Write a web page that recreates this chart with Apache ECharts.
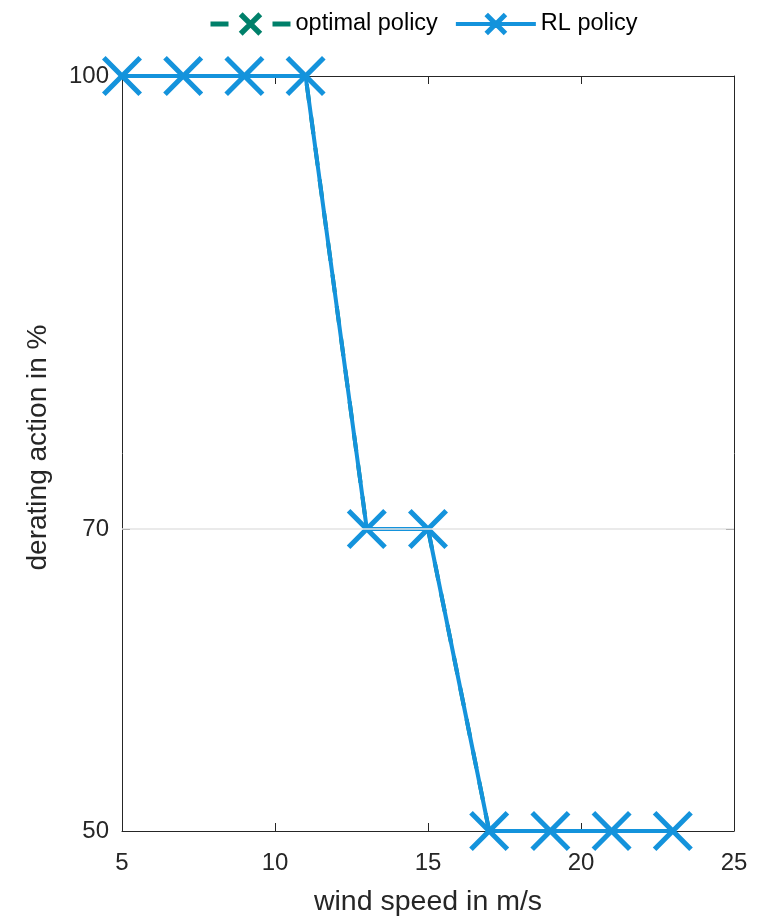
<!DOCTYPE html>
<html>
<head>
<meta charset="utf-8">
<script src="https://cdn.jsdelivr.net/npm/echarts@6/dist/echarts.min.js"></script>
<style>html,body{margin:0;padding:0;background:#fff}#c{width:766px;height:916px}</style>
</head>
<body>
<div id="c"></div>
<script>
const windSpeed = [5, 7, 9, 11, 13, 15, 17, 19, 21, 23];
const optimalPolicy = [100, 100, 100, 100, 70, 70, 50, 50, 50, 50];
const rlPolicy = [100, 100, 100, 100, 70, 70, 50, 50, 50, 50];
const xTicks = [5, 10, 15, 20, 25];
const yTicks = [50, 70, 100];
const gridLines = [70];

const crossPath = 'path://M0,9 L9,0 L50,41 L91,0 L100,9 L59,50 L100,91 L91,100 L50,59 L9,100 L0,91 L41,50 Z';
const font = 'Liberation Sans';
const txt = '#262626';
const green = '#00806a';
const blue = '#1493dc';

const chart = echarts.init(document.getElementById('c'), null, {renderer: 'canvas'});
const toPairs = (xs, ys) => xs.map((x, i) => [x, ys[i]]);

chart.setOption({
  animation: false,
  backgroundColor: '#fff',
  textStyle: {fontFamily: font},
  legend: {
    top: 7, left: 203,
    itemWidth: 80, itemHeight: 24, itemGap: 16,
    textStyle: {fontSize: 23.5, color: '#000', fontFamily: font},
    data: [
      {name: 'optimal policy', lineStyle: {width: 5, color: green, type: [18, 44]},
       itemStyle: {color: green, borderColor: green, borderWidth: 3}},
      {name: 'RL policy', lineStyle: {width: 4, color: blue},
       itemStyle: {color: blue, borderColor: blue, borderWidth: 2.5}}
    ]
  },
  grid: {left: 122, right: 32, top: 76, bottom: 85, containLabel: false, outerBoundsMode: 'none'},
  xAxis: [{
    type: 'value', min: 5, max: 25, interval: 5,
    name: 'wind speed in m/s', nameLocation: 'middle', nameGap: 57,
    nameTextStyle: {fontSize: 28.5, color: txt, fontFamily: font},
    axisLine: {show: true, lineStyle: {color: '#262626', width: 1}},
    axisTick: {show: true, inside: true, length: 8, lineStyle: {color: '#262626'}},
    axisLabel: {fontSize: 24, color: txt, margin: 20, fontFamily: font, customValues: xTicks},
    splitLine: {show: false}
  }, {
    type: 'value', min: 5, max: 25, interval: 5, position: 'top',
    axisLine: {show: true, lineStyle: {color: '#262626', width: 1}},
    axisTick: {show: true, inside: true, length: 8, lineStyle: {color: '#262626'}},
    axisLabel: {show: false},
    splitLine: {show: false}
  }],
  yAxis: [{
    type: 'value', min: 50, max: 100, interval: 10,
    name: 'derating action in %', nameLocation: 'middle', nameGap: 70,
    nameTextStyle: {fontSize: 28, color: txt, fontFamily: font, padding: [0, 0, 0, 12]},
    axisLine: {show: true, lineStyle: {color: '#262626', width: 1}},
    axisTick: {show: true, inside: true, length: 8, lineStyle: {color: '#262626'}, customValues: yTicks},
    axisLabel: {fontSize: 24, color: txt, margin: 13, fontFamily: font, customValues: yTicks},
    splitLine: {show: false}
  }, {
    type: 'value', min: 50, max: 100, interval: 10, position: 'right',
    axisLine: {show: true, lineStyle: {color: '#262626', width: 1}},
    axisTick: {show: true, inside: true, length: 8, lineStyle: {color: '#262626'}, customValues: yTicks},
    axisLabel: {show: false},
    splitLine: {show: false}
  }],
  series: [{
    name: 'optimal policy', type: 'line',
    data: toPairs(windSpeed, optimalPolicy),
    symbol: crossPath, symbolSize: 26,
    itemStyle: {color: green},
    lineStyle: {color: green, width: 4, type: [18, 14]},
    z: 2,
    markLine: {
      silent: true, symbol: 'none', label: {show: false},
      lineStyle: {color: '#e3e3e3', width: 1.5, type: 'solid'},
      data: gridLines.map(v => ({yAxis: v}))
    }
  }, {
    name: 'RL policy', type: 'line',
    data: toPairs(windSpeed, rlPolicy),
    symbol: crossPath, symbolSize: 40,
    itemStyle: {color: blue},
    lineStyle: {color: blue, width: 4},
    z: 3
  }]
});
</script>
</body>
</html>
